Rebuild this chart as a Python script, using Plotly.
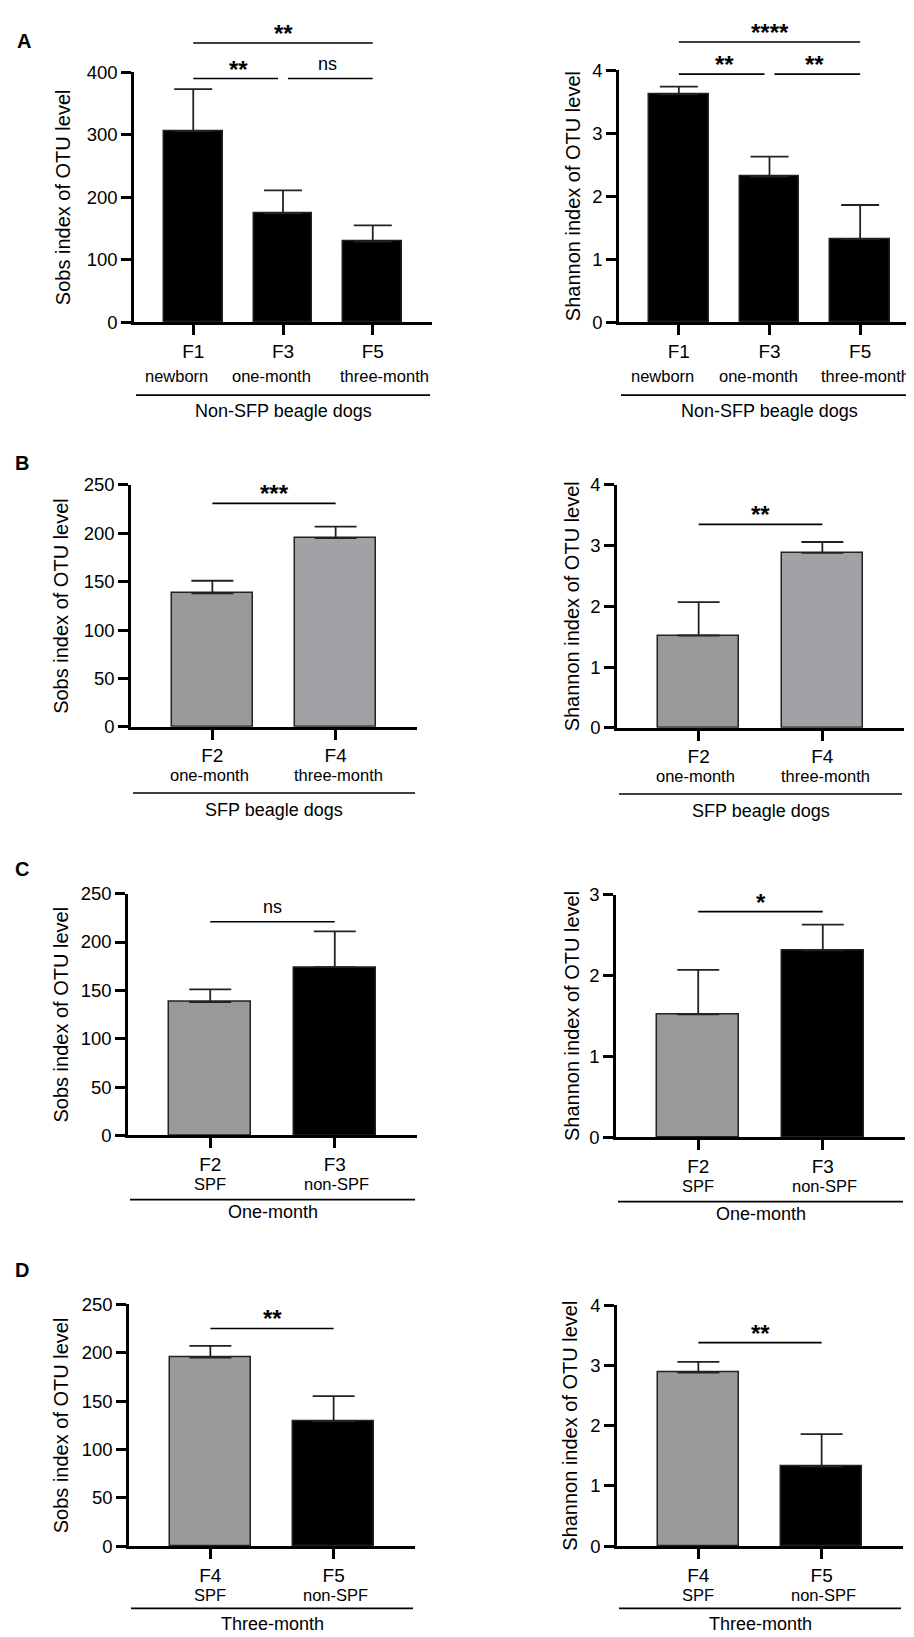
import plotly.graph_objects as go

W, H = 914, 1637
FONT = "Arial, Liberation Sans, sans-serif"

# group means / SD
groups = ["F1", "F2", "F3", "F4", "F5"]
sobs_mean = [306, 138, 174, 195, 129]
sobs_sd = [67, 13, 37, 12, 26]
shannon_mean = [3.62, 1.52, 2.31, 2.88, 1.32]
shannon_sd = [0.12, 0.55, 0.32, 0.18, 0.54]

sobs_title = "Sobs index of OTU level"
shannon_title = "Shannon index of OTU level"

row_letters = ["A", "B", "C", "D"]
row_groups = [["F1", "F3", "F5"], ["F2", "F4"], ["F2", "F3"], ["F4", "F5"]]
row_sublabels = [["newborn", "one-month", "three-month"],
                 ["one-month", "three-month"],
                 ["SPF", "non-SPF"],
                 ["SPF", "non-SPF"]]
row_captions = ["Non-SFP beagle dogs", "SFP beagle dogs", "One-month", "Three-month"]
row_colors = [["#000000", "#000000", "#000000"],
              ["#999999", "#a2a1a6"],
              ["#989a98", "#000000"],
              ["#9b9b9b", "#000000"]]

sobs_ymax = [400, 250, 250, 250]
sobs_dtick = [100, 50, 50, 50]
shannon_ymax = [4, 4, 3, 4]
shannon_dtick = [1, 1, 1, 1]

# significance tests: (bar i, bar j, label, bracket height in axis units)
sobs_tests = [[(0, 1, "**", 390), (1, 2, "ns", 390), (0, 2, "**", 447)],
              [(0, 1, "***", 231)],
              [(0, 1, "ns", 221)],
              [(0, 1, "**", 225)]]
shannon_tests = [[(0, 1, "**", 3.94), (1, 2, "**", 3.94), (0, 2, "****", 4.45)],
                 [(0, 1, "**", 3.35)],
                 [(0, 1, "*", 2.79)],
                 [(0, 1, "**", 3.38)]]

# plot boxes in pixels: left, right, top, bottom
boxes = [[(126, 424, 54, 307), (611, 912, 52, 307)],
         [(123, 409, 472, 717), (609, 896, 472, 718)],
         [(120, 409, 886, 1131), (608, 897, 887, 1133)],
         [(121, 407, 1302, 1547), (609, 895, 1303, 1547)]]
letter_pos = [(16, 22), (14, 450), (14, 861), (14, 1267)]
sub_off = [54, 48, 49, 49]
sub_xshift = [[[-17, -12, 12], [-16, -11, 5]], [[-3, 3], [-3, 3]], [[0, 2], [0, 2]], [[0, 2], [0, 2]]]
bracket_off = [74, 67, 65, 63]
caption_off = [90, 84, 78, 79]
ytitle_x = [(55, 565), (53, 564), (53, 564), (53, 562)]


def fx(p):
    return p / W


def fy(p):
    return 1 - p / H


fig = go.Figure()
shapes, annos = [], []
layout = {}
k = 0
for r in range(4):
    for c in range(2):
        k += 1
        sfx = "" if k == 1 else str(k)
        xname, yname = "x" + sfx, "y" + sfx
        left, right, top, bottom = boxes[r][c]
        idx = [groups.index(g) for g in row_groups[r]]
        n = len(idx)
        pos = list(range(n))
        if c == 0:
            means = [sobs_mean[i] for i in idx]
            sds = [sobs_sd[i] for i in idx]
            ymax, dtick, tests, title = sobs_ymax[r], sobs_dtick[r], sobs_tests[r], sobs_title
        else:
            means = [shannon_mean[i] for i in idx]
            sds = [shannon_sd[i] for i in idx]
            ymax, dtick, tests, title = shannon_ymax[r], shannon_dtick[r], shannon_tests[r], shannon_title

        fig.add_trace(go.Bar(
            x=pos, y=means, width=0.655, xaxis=xname, yaxis=yname,
            marker=dict(color=row_colors[r], line=dict(color="#222222", width=1.5)),
            error_y=dict(type="data", symmetric=False, array=sds, arrayminus=[0] * n,
                         color="#222222", thickness=1.8, width=19 if n == 3 else 21),
            hoverinfo="skip",
        ))

        layout["xaxis" + sfx] = dict(
            domain=[fx(left), fx(right)], anchor=yname, range=[-0.66, n - 1 + 0.66],
            tickvals=pos, ticktext=row_groups[r], showline=True, linecolor="black",
            linewidth=2.6, ticks="outside", ticklen=10, tickwidth=2.6, tickcolor="black",
            showgrid=False, zeroline=False, fixedrange=True,
            tickfont=dict(family=FONT, size=19, color="black"),
        )
        layout["yaxis" + sfx] = dict(
            domain=[fy(bottom), fy(top)], anchor=xname, range=[0, ymax], dtick=dtick,
            showline=True, linecolor="black", linewidth=2.6, ticks="outside", ticklen=10,
            tickwidth=2.6, tickcolor="black", showgrid=False, zeroline=False, fixedrange=True,
            tickfont=dict(family=FONT, size=18.5, color="black"),
        )

        yb, yt = fy(bottom), fy(top)
        # significance brackets
        for (i, j, lab, h) in tests:
            x0, x1 = i, j
            for (a, b, _, h2) in tests:
                if h2 == h and (a, b) != (i, j):
                    if a == j:
                        x1 -= 0.055
                    if b == i:
                        x0 += 0.055
            yp = yb + h / ymax * (yt - yb)
            shapes.append(dict(type="line", xref=xname, yref="paper", x0=x0, x1=x1,
                               y0=yp, y1=yp, line=dict(color="black", width=1.6)))
            star = lab != "ns"
            annos.append(dict(x=(i + j) / 2, y=yp, xref=xname, yref="paper",
                              text=("<b>%s</b>" % lab) if star else lab, showarrow=False,
                              xanchor="center", yanchor="bottom", yshift=-6 if star else 3,
                              font=dict(family=FONT, size=24 if star else 18, color="black")))

        # second line of tick labels
        for p, s, dx in zip(pos, row_sublabels[r], sub_xshift[r][c]):
            annos.append(dict(x=p, y=yb, xref=xname, yref="paper", text=s, showarrow=False,
                              xanchor="center", yanchor="middle", yshift=-sub_off[r], xshift=dx,
                              font=dict(family=FONT, size=16.5, color="black")))
        # group bracket + caption
        ybr = fy(bottom + bracket_off[r])
        shapes.append(dict(type="line", xref="paper", yref="paper", x0=fx(left + 2),
                           x1=fx(right - 2), y0=ybr, y1=ybr,
                           line=dict(color="black", width=1.6)))
        annos.append(dict(x=fx((left + right) / 2), y=fy(bottom + caption_off[r]),
                          xref="paper", yref="paper", text=row_captions[r], showarrow=False,
                          xanchor="center", yanchor="middle",
                          font=dict(family=FONT, size=18, color="black")))
        # y title
        annos.append(dict(x=fx(ytitle_x[r][c]), y=(yb + yt) / 2, xref="paper", yref="paper",
                          text=title, textangle=-90, showarrow=False, xanchor="center",
                          yanchor="middle", font=dict(family=FONT, size=20, color="black")))

for L, (lx, ly) in zip(row_letters, letter_pos):
    annos.append(dict(x=fx(lx), y=fy(ly), xref="paper", yref="paper", text="<b>%s</b>" % L,
                      showarrow=False, xanchor="center", yanchor="middle",
                      font=dict(family=FONT, size=20, color="black")))

fig.update_layout(
    width=W, height=H, margin=dict(l=0, r=0, t=0, b=0),
    paper_bgcolor="white", plot_bgcolor="white", showlegend=False,
    shapes=shapes, annotations=annos, bargap=0, **layout,
)

fig.write_html("out.html")
